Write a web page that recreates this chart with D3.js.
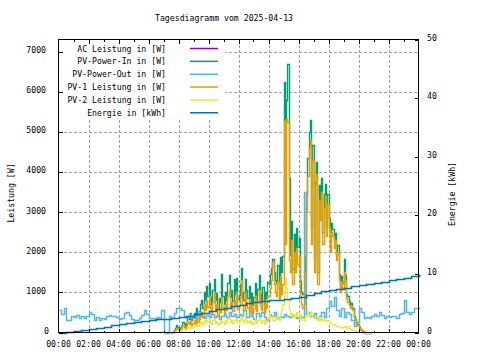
<!DOCTYPE html>
<html><head><meta charset="utf-8">
<script src="https://cdn.jsdelivr.net/npm/d3@7"></script>
<style>
body{margin:0;background:#fff;}
svg text{font-family:"DejaVu Sans Mono","Liberation Mono",monospace;font-size:8.2px;fill:#000;}
</style></head><body>
<svg id="chart" width="480" height="360"></svg>
<script>
const title = "Tagesdiagramm vom 2025-04-13";
const yLabel = "Leistung [W]";
const y2Label = "Energie [kWh]";
const xTickLabels = ["00:00","02:00","04:00","06:00","08:00","10:00","12:00","14:00","16:00","18:00","20:00","22:00","00:00"];
const yTicks = [0,1000,2000,3000,4000,5000,6000,7000];
const y2Ticks = [0,10,20,30,40,50];
const seriesNames = ["AC Leistung in [W]","PV-Power-In in [W]","PV-Power-Out in [W]","PV-1 Leistung in [W]","PV-2 Leistung in [W]","Energie in [kWh]"];
const seriesColors = ["#9400D3","#009E73","#56B4E9","#E69F00","#F0E442","#0072B2"];

// PV values every 5 minutes from 07:30
const pvStartMin = 450, pvStepMin = 5;
const pvIn = [
 0,20,50,100,180,140, 100,70,170,270,220,150, 240,390,330,480,300,380, 480,360,600,430,530,700,
 800,600,1000,820,1170,920, 1240,880,700,1050,1340,800, 980,620,860,760,1460,900, 700,1020,810,1240,1430,890,
 1060,780,1340,960,1360,830, 930,1220,1600,1020,810,1340, 1060,860,1160,760,990,680, 880,1240,780,1080,1430,960,
 800,1140,700,1020,860,1260, 1200,1450,1600,1840,1500,1300, 1240,1670,1100,1880,1510,1900, 6250,4450,5800,6700,3850,1920,
 2780,1580,2460,1900,2600,2120, 2350,1280,1020,960,1000,1900, 3420,4360,5000,5300,2640,4660, 1860,3760,4240,1500,3680,3120,
 3860,2500,3440,3690,2680,3440, 2860,2240,2720,2590,2300,2470, 1960,2170,1450,1120,1400,1230, 1840,1430,960,900,780,700,
 740,620,420,340,240,200, 135,90,65,30,10,0, 0,0,0,0,0];
const pv1 = [
 0,10,30,60,120,90, 60,40,110,180,140,90, 150,260,220,320,180,240, 300,210,380,260,330,450,
 520,380,700,560,820,640, 900,620,480,750,980,560, 700,420,600,520,880,640, 480,720,560,900,1050,620,
 760,540,820,680,1000,580, 650,880,1300,720,560,980, 760,600,840,520,700,460, 620,900,540,780,1050,680,
 560,820,480,720,600,900, 900,1100,1300,1750,1200,1000, 900,1250,800,1400,950,1200, 5280,2200,5330,5250,1800,1500,
 2300,1200,2000,1500,2100,1700, 1900,900,700,600,700,1500, 3000,3900,4600,4800,2200,4300, 1500,3700,3960,1200,3300,2800,
 3500,2200,3100,3400,2400,3200, 2600,2000,2500,2400,2100,2300, 1800,2000,1300,1000,1250,1100, 1500,1300,850,750,680,620,
 650,560,370,300,220,180, 120,80,60,30,10,0, 0,0,0,0,0];
const pv2 = [
 0,10,20,40,60,50, 40,30,60,90,80,60, 90,130,110,160,120,140, 180,150,220,170,200,250,
 280,220,300,260,320,280, 340,260,220,300,360,240, 280,200,260,240,320,260, 220,300,250,340,380,270,
 300,240,320,280,360,250, 280,340,420,300,250,360, 300,260,320,240,290,220, 260,340,240,300,380,280,
 240,320,220,300,260,360, 450,380,420,320,280,380, 340,420,300,480,560,700, 900,1350,1100,800,550,420,
 480,380,460,400,500,420, 450,380,320,360,300,400, 420,460,380,500,440,380, 360,420,400,300,380,320,
 360,300,340,320,280,300, 260,240,220,200,220,180, 160,170,150,140,120,130, 160,130,110,150,100,80,
 90,60,50,40,30,20, 15,10,5,0,0,0, 0,0,0,0,0];

// PV-Power-Out every 10 minutes from 00:00
const outStepMin = 10;
const pvOut = [
 560,470,600,320,300,420, 380,440,350,400,360,420, 520,470,320,380,300,360, 330,420,440,400,420,390,
 340,360,480,520,430,340, 300,320,350,430,560,470, 350,360,340,380,350,560, 0,0,420,350,480,600,
 620,560,420,380,460,350, 420,370,500,420,360,430, 380,450,380,420,340,400, 460,380,500,420,450,380,
 470,400,560,380,600,420, 340,480,400,520,380,300, 450,420,500,350,420,380, 460,420,380,440,400,360,
 420,380,3500,450,520,400, 480,360,420,500,380,600, 780,650,880,560,420,600, 380,520,450,300,160,250,
 600,500,370,380,350,400, 450,420,500,430,370,400, 380,420,400,360,450,480, 800,520,450,500,620,600, 640];
// AC power: same measurement as output (hidden beneath it)
const acPower = pvOut;

// Energy every 30 minutes from 00:00
const energyStepMin = 30;
const energy = [0,0.15,0.3,0.45,0.6,0.8,1.0,1.2,1.37,1.6,1.8,2.0,2.17,2.25,2.35,2.45,2.6,2.85,3.1,3.4,3.7,3.95,4.2,4.5,
 4.75,5.0,5.25,5.4,5.5,5.6,5.75,5.9,6.1,6.4,6.75,7.0,7.25,7.4,7.6,7.85,8.05,8.2,8.4,8.65,8.9,9.1,9.35,9.6,9.9];

const L = 58.5, R = 418.5, T = 39.5, B = 332.5;
const svg = d3.select("#chart");
const x = d3.scaleLinear().domain([0,1440]).range([L,R]);
const y = d3.scaleLinear().domain([0,7300]).range([B,T]);
const y2 = d3.scaleLinear().domain([0,50]).range([B,T]);

// grid
const grid = svg.append("g").attr("stroke","#a0a0a0").attr("stroke-dasharray","3,2").attr("shape-rendering","crispEdges");
d3.range(120,1440,120).forEach(m=>{
  grid.append("line").attr("x1",Math.round(x(m))+0.5).attr("x2",Math.round(x(m))+0.5).attr("y1",B).attr("y2",T);
});
yTicks.filter(v=>v>0).forEach(v=>{
  grid.append("line").attr("x1",L).attr("x2",R).attr("y1",Math.round(y(v))+0.5).attr("y2",Math.round(y(v))+0.5);
});

// legend background
svg.append("rect").attr("x",L+0.5).attr("y",T+0.5).attr("width",166).attr("height",80).attr("fill","#fff");

// series
const lineGen = (arr, start, step, sc) => d3.line().curve(d3.curveStepAfter)
  .x((d,i)=>Math.round(x(start+i*step))+0.5).y(d=>Math.round(sc(d))+0.5)(arr);
const plot = svg.append("g").attr("fill","none");
const seriesDefs = [
  {data:acPower,start:0,step:outStepMin,sc:y,w:1,crisp:true},
  {data:pvIn,start:pvStartMin,step:pvStepMin,sc:y,w:1.4,crisp:false},
  {data:pvOut,start:0,step:outStepMin,sc:y,w:1.5,crisp:false},
  {data:pv1,start:pvStartMin,step:pvStepMin,sc:y,w:1.4,crisp:false},
  {data:pv2,start:pvStartMin,step:pvStepMin,sc:y,w:1.2,crisp:false},
  {data:energy,start:0,step:energyStepMin,sc:y2,w:1.6,crisp:false}
];
seriesDefs.forEach((s,k)=>{
  plot.append("path").attr("d",lineGen(s.data,s.start,s.step,s.sc))
    .attr("stroke",seriesColors[k]).attr("stroke-width",s.w)
    .attr("shape-rendering",s.crisp?"crispEdges":"auto");
});

// frame
svg.append("rect").attr("x",L).attr("y",T).attr("width",R-L).attr("height",B-T)
  .attr("fill","none").attr("stroke","#000").attr("stroke-width",1).attr("shape-rendering","crispEdges");

// ticks
const tk = svg.append("g").attr("stroke","#000").attr("shape-rendering","crispEdges");
d3.range(60,1440,60).forEach(m=>{
  const len = (m%120===0)?4:2;
  const xx = Math.round(x(m))+0.5;
  tk.append("line").attr("x1",xx).attr("x2",xx).attr("y1",B).attr("y2",B-len);
  tk.append("line").attr("x1",xx).attr("x2",xx).attr("y1",T).attr("y2",T+len);
});
yTicks.forEach(v=>{
  const yy = Math.round(y(v))+0.5;
  tk.append("line").attr("x1",L).attr("x2",L+4).attr("y1",yy).attr("y2",yy);
});
y2Ticks.forEach(v=>{
  const yy = Math.round(y2(v))+0.5;
  tk.append("line").attr("x1",R).attr("x2",R-4).attr("y1",yy).attr("y2",yy);
});

// tick labels
xTickLabels.forEach((t,i)=>{
  svg.append("text").attr("x",x(i*120)).attr("y",347).attr("text-anchor","middle").text(t);
});
yTicks.forEach(v=>{
  svg.append("text").attr("x",v===0?49:46).attr("y",y(v)+1.5).attr("text-anchor","end").text(v);
});
y2Ticks.forEach(v=>{
  svg.append("text").attr("x",427).attr("y",y2(v)+1).text(v);
});

// titles
svg.append("text").attr("x",224).attr("y",21).attr("text-anchor","middle").text(title);
svg.append("text").attr("transform","translate(14,193) rotate(-90)").attr("text-anchor","middle").text(yLabel);
svg.append("text").attr("transform","translate(455,194) rotate(-90)").attr("text-anchor","middle").text(y2Label);

// legend
seriesNames.forEach((n,k)=>{
  const cy = 48.5 + k*12.85;
  svg.append("text").attr("x",166).attr("y",cy+3).attr("text-anchor","end").text(n);
  svg.append("line").attr("x1",190).attr("x2",218).attr("y1",cy).attr("y2",cy)
    .attr("stroke",seriesColors[k]).attr("stroke-width",1.5);
});
</script>
</body></html>
